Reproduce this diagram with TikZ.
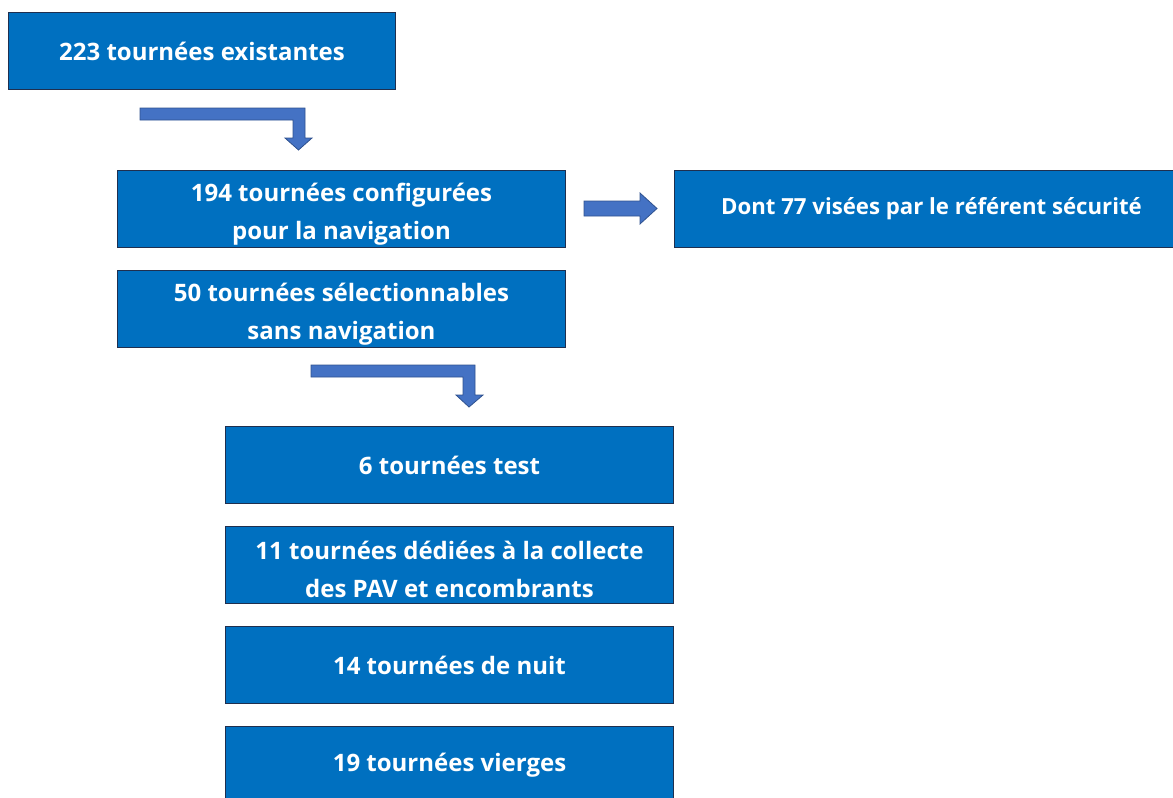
\documentclass[tikz,border=0pt]{standalone}
\usepackage{fontspec}
\setmainfont{Open Sans}
\usetikzlibrary{positioning}

\definecolor{boite}{HTML}{0070C0}
\definecolor{bord}{HTML}{1F2F4F}
\definecolor{fleche}{HTML}{4472C4}
\definecolor{flechebord}{HTML}{2F528F}
\newcommand{\haut}{\rule{0pt}{28pt}}

\begin{document}
\begin{tikzpicture}[x=1pt, y=-1pt, node distance=23pt,
    etape/.style={rectangle, draw=bord, line width=1.2pt, fill=boite,
      text=white, font=\fontsize{24}{38}\selectfont\bfseries, align=center,
      minimum width=448pt, minimum height=77pt, inner sep=0pt, outer sep=0pt},
    fleche/.style={draw=flechebord, fill=fleche, line width=0.8pt}]

  \useasboundingbox (0,0) rectangle (1173,798);

  \node[etape, minimum width=387pt] (existantes) at (202,51) {223 tournées existantes};
  \node[etape] (config) at (341.5,209) {\haut194 tournées configurées\\pour la navigation};
  \node[etape, below=of config] (sansnav) {\haut50 tournées sélectionnables\\sans navigation};
  \node[etape, minimum width=514pt, right=109pt of config,
    font=\fontsize{22.2}{38}\selectfont\bfseries] (securite) {Dont 77 visées par le référent sécurité};

  \node[etape] (test) at (449.5,465) {6 tournées test};
  \node[etape, below=of test] (collecte) {\haut11 tournées dédiées à la collecte\\des PAV et encombrants};
  \node[etape, below=of collecte] (nuit) {14 tournées de nuit};
  \node[etape, below=of nuit] (vierges) {19 tournées vierges};

  % fleches
  \draw[fleche] (140,108) -- (305,108) -- (305,138) -- (312,138) -- (298.5,150)
    -- (285,138) -- (293,138) -- (293,120) -- (140,120) -- cycle;
  \draw[fleche] (584,201) -- (640,201) -- (640,193) -- (657,208.5) -- (640,224)
    -- (640,216) -- (584,216) -- cycle;
  \draw[fleche] (311,365) -- (475,365) -- (475,395) -- (483,395) -- (469,407)
    -- (456,395) -- (463,395) -- (463,377) -- (311,377) -- cycle;
\end{tikzpicture}
\end{document}
